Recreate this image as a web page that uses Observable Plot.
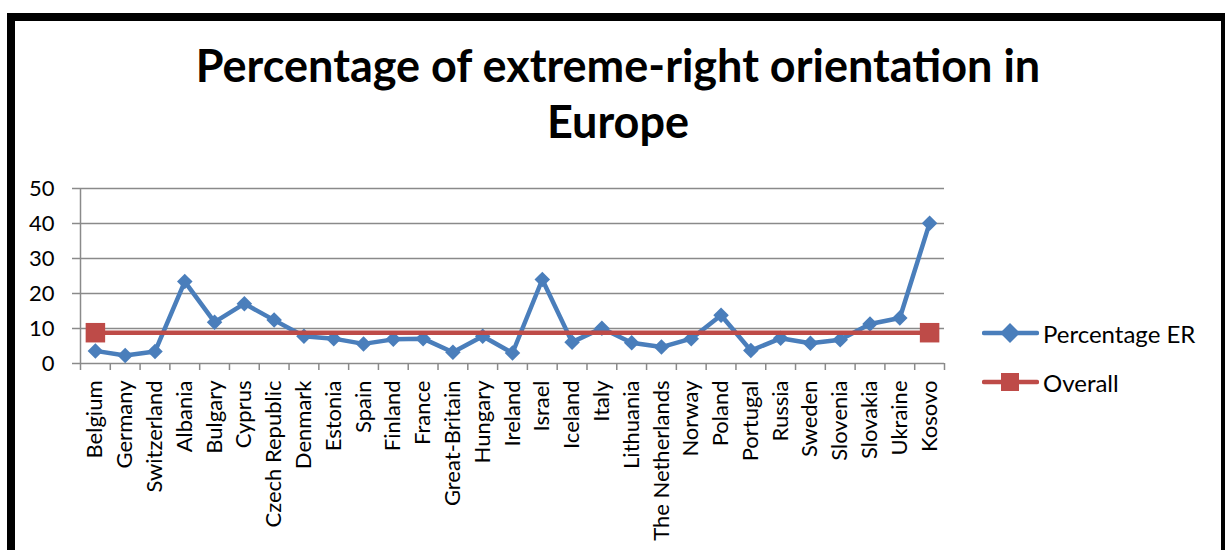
<!DOCTYPE html>
<html>
<head>
<meta charset="utf-8">
<script src="https://cdn.jsdelivr.net/npm/d3@7"></script>
<script src="https://cdn.jsdelivr.net/npm/@observablehq/plot@0.6"></script>
<style>
  body { margin: 0; background: #fff; }
  #wrap { position: relative; width: 1225px; height: 550px; overflow: hidden; background: #fff; font-family: Lato, "Open Sans", sans-serif; }
  #border { position: absolute; left: 7px; top: 13px; width: 1206px; height: 700px; border-left: 8px solid #000; border-top: 8px solid #000; border-right: 4px solid #000; }
  #title { position: absolute; left: 168px; width: 900px; top: 37px; text-align: center; font-weight: bold; font-size: 45px; line-height: 56px; color: #000; }
  #chart { position: absolute; left: 0; top: 160px; }
  .leg { position: absolute; left: 982px; height: 26px; display: flex; align-items: center; font-size: 24px; color: #000; white-space: nowrap; }
  .leg svg { margin-right: 4px; }
</style>
</head>
<body>
<div id="wrap">
  <div id="border"></div>
  <div id="title"></div>
  <div id="chart"></div>
  <div id="legend"></div>
</div>
<script>
const titleText = "Percentage of extreme-right orientation in Europe";

const countries = ["Belgium","Germany","Switzerland","Albania","Bulgary","Cyprus","Czech Republic","Denmark","Estonia","Spain","Finland","France","Great-Britain","Hungary","Ireland","Israel","Iceland","Italy","Lithuania","The Netherlands","Norway","Poland","Portugal","Russia","Sweden","Slovenia","Slovakia","Ukraine","Kosovo"];

const percentageER = [3.6,2.3,3.4,23.4,11.8,17.1,12.4,7.8,7.1,5.6,6.9,7.1,3.2,7.8,3.0,24.0,6.1,10.1,5.9,4.7,7.1,13.8,3.7,7.2,5.8,6.8,11.3,13.0,40.1];

const overallCountries = ["Belgium","Kosovo"];
const overallValues = [8.8, 8.8];

const yTicks = [0,10,20,30,40,50];

const seriesNames = ["Percentage ER","Overall"];
const seriesColors = ["#4a7ebb","#be4b48"];

document.getElementById("title").textContent = titleText;

const xIndex = c => countries.indexOf(c) + 0.5;
const erData = countries.map((c, i) => ({country: c, value: percentageER[i]}));
const overallData = overallCountries.map((c, i) => ({country: c, value: overallValues[i]}));
const boundaries = d3.range(countries.length + 1);

const chart = Plot.plot({
  width: 1225,
  height: 390,
  marginTop: 28,
  marginBottom: 187,
  marginLeft: 80,
  marginRight: 281,
  style: {fontFamily: "Lato, 'Open Sans', sans-serif", color: "#000", background: "transparent"},
  x: {type: "linear", domain: [0, countries.length]},
  y: {domain: [0, 50]},
  marks: [
    Plot.ruleY(yTicks, {stroke: "#8a8a8a", strokeWidth: 1.5}),
    Plot.ruleX([0], {stroke: "#8a8a8a", strokeWidth: 1.5}),
    Plot.axisY({ticks: yTicks, tickSize: 8, tickPadding: 18, fontSize: 22, stroke: "#8a8a8a", strokeWidth: 1.5, label: null}),
    Plot.axisX({ticks: boundaries, tickSize: 7, tickFormat: () => "", stroke: "#8a8a8a", strokeWidth: 1.5, label: null}),
    Plot.text(countries, {x: d => xIndex(d), frameAnchor: "bottom", text: d => d, rotate: -90, textAnchor: "end", lineAnchor: "middle", dy: 17, fontSize: 22, fill: "#000"}),
    Plot.line(erData, {x: d => xIndex(d.country), y: "value", stroke: seriesColors[0], strokeWidth: 4.5, strokeLinejoin: "round"}),
    Plot.dot(erData, {x: d => xIndex(d.country), y: "value", symbol: "square", rotate: 45, r: 6.2, fill: seriesColors[0], stroke: "none"}),
    Plot.line(overallData, {x: d => xIndex(d.country), y: "value", stroke: seriesColors[1], strokeWidth: 4.5}),
    Plot.dot(overallData, {x: d => xIndex(d.country), y: "value", symbol: "square", r: 11, fill: seriesColors[1], stroke: "none"})
  ]
});
document.getElementById("chart").appendChild(chart);

// legend
const legend = document.getElementById("legend");
const legTops = [320, 369];
seriesNames.forEach((name, i) => {
  const row = document.createElement("div");
  row.className = "leg";
  row.style.top = legTops[i] + "px";
  const marker = i === 0
    ? `<rect x="21" y="6" width="14" height="14" fill="${seriesColors[0]}" transform="rotate(45 28 13)"/>`
    : `<rect x="19" y="4" width="18" height="18" fill="${seriesColors[1]}"/>`;
  row.innerHTML = `<svg width="57" height="26"><line x1="2" x2="55" y1="13" y2="13" stroke="${seriesColors[i]}" stroke-width="4.5" stroke-linecap="round"/>${marker}</svg><span>${name}</span>`;
  legend.appendChild(row);
});
</script>
</body>
</html>
